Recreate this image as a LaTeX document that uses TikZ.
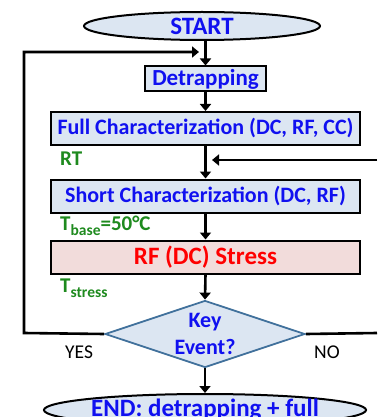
\documentclass[tikz,border=0pt]{standalone}
\usepackage{fontspec}
\setmainfont{Carlito}
\usetikzlibrary{shapes.geometric,arrows.meta}
\definecolor{boxblue}{HTML}{DCE6F2}
\definecolor{boxpink}{HTML}{F2DCDB}
\definecolor{txtblue}{HTML}{1010F0}
\definecolor{txtgreen}{HTML}{1E8A1E}
\definecolor{diaedge}{HTML}{41719C}
\newcommand{\lowsub}[1]{\raisebox{-5pt}{\fontsize{15.5}{15.5}\selectfont #1}}
\tikzset{
  flow/.style={draw=black, line width=2.6pt, -{Triangle[width=11pt,length=7pt]}},
  loopline/.style={draw=black, line width=2.6pt},
  procbox/.style={draw=black, line width=2pt, fill=boxblue, text=txtblue, font=\fontsize{22}{24}\selectfont\bfseries, inner sep=0pt, minimum height=33pt},
  termbox/.style={ellipse, draw=black, line width=2pt, fill=boxblue, text=txtblue, font=\fontsize{25}{27}\selectfont\bfseries, inner sep=0pt},
  lbl/.style={text=txtgreen, font=\fontsize{21}{23}\selectfont\bfseries, anchor=base west, inner sep=0pt},
  yn/.style={text=black, font=\fontsize{19.5}{21}\selectfont, anchor=base west, inner sep=0pt}
}
\begin{document}
\begin{tikzpicture}[x=1pt,y=-1pt]
\useasboundingbox (0,0) rectangle (377,417);
\clip (0,0) rectangle (377,417);
\node[termbox, minimum width=236pt, minimum height=28pt] (start) at (202,26) {START};
\node[procbox, minimum width=121pt, minimum height=25pt, font=\fontsize{23}{25}\selectfont\bfseries] (detrap) at (205.5,79) {Detrapping};
\node[procbox, minimum width=309pt] (full) at (205.5,128.5) {Full Characterization (DC, RF, CC)};
\node[procbox, minimum width=309pt] (short) at (205.5,196) {Short Characterization (DC, RF)};
\node[procbox, minimum width=309pt, fill=boxpink, text=red, font=\fontsize{25}{27}\selectfont\bfseries] (stress) at (205.5,257) {RF (DC) Stress};
\node[diamond, draw=diaedge, line width=1.8pt, fill=boxblue, text=txtblue, font=\fontsize{22}{27}\selectfont\bfseries, align=center, inner sep=0pt, minimum width=200pt, minimum height=67pt, aspect=3] (key) at (205,334) {Key\\Event?};
\node[termbox, minimum width=296pt, minimum height=32pt, font=\fontsize{25}{27}\selectfont\bfseries] (end) at (205,410) {END: detrapping + full};
\node[lbl] (rt) at (60,165) {RT};
\node[lbl] (tbase) at (60,230) {T\lowsub{base}=50°C};
\node[lbl] (tstress) at (60,292) {T\lowsub{stress}};
\node[yn] (yes) at (65,358) {YES};
\node[yn] (no) at (314,358) {NO};
\coordinate (lcorner) at (24,333);
\coordinate (ltop) at (24,52);
\coordinate (rin) at (377,160);
\coordinate (rout) at (377,333);
\draw[flow] (detrap.north |- start.south) -- (detrap.north);
\draw[flow] (detrap.south) -- (full.north);
\draw[flow] (full.south) -- (short.north);
\draw[flow] (short.south) -- (stress.north);
\draw[flow] (stress.south) -- (key.north);
\draw[flow] (key.south) -- (end.north);
\draw[flow] (key.west) -- (lcorner) -- (ltop) -- (199,52);
\draw[loopline] (key.east) -- (rout);
\draw[flow] (rin) -- (212,160);
\end{tikzpicture}
\end{document}
